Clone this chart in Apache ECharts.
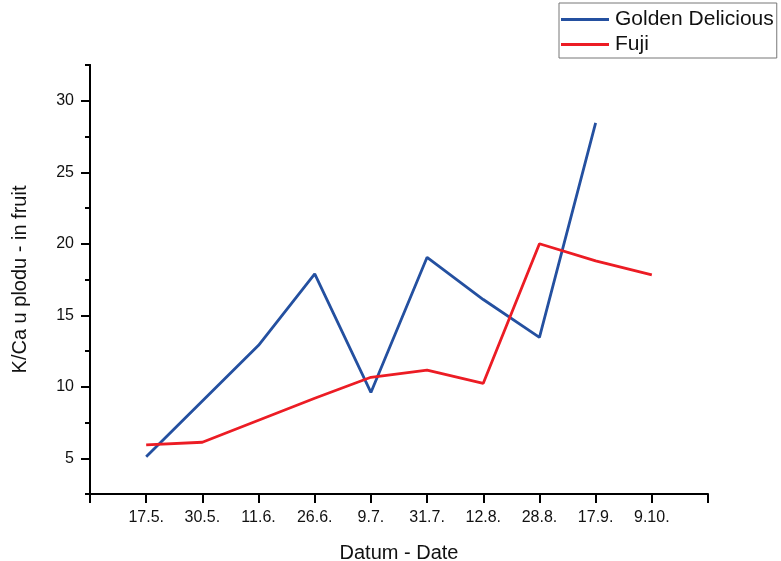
<!DOCTYPE html>
<html>
<head>
<meta charset="utf-8">
<script src="https://cdn.jsdelivr.net/npm/echarts@6/dist/echarts.min.js"></script>
<style>html,body{margin:0;padding:0;background:#fff;}#c{width:781px;height:561px;}</style>
</head>
<body>
<div id="c"></div>
<script>
const categories = ['17.5.', '30.5.', '11.6.', '26.6.', '9.7.', '31.7.', '12.8.', '28.8.', '17.9.', '9.10.'];
const goldenDelicious = [5.1, 9.0, 12.9, 17.9, 9.6, 19.05, 16.1, 13.45, 28.45];
const fuji = [5.93, 6.12, 7.66, 9.2, 10.66, 11.17, 10.24, 20.0, 18.8, 17.82];
const yMajorTicks = [5, 10, 15, 20, 25, 30];

const FONT = '"Liberation Sans", Arial, sans-serif';
const toPairs = arr => arr.map((v, i) => [i + 1, v]);

const chart = echarts.init(document.getElementById('c'), null, {renderer: 'canvas'});
chart.setOption({
  backgroundColor: '#fff',
  animation: false,
  grid: {left: 90, right: 73, top: 65, bottom: 67, outerBoundsMode: 'none', containLabel: false},
  legend: {
    orient: 'vertical',
    left: 559, top: 3,
    padding: [4, 3, 1, 2],
    itemGap: 0,
    icon: 'rect',
    itemWidth: 48, itemHeight: 3,
    borderColor: '#777', borderWidth: 1,
    textStyle: {fontFamily: FONT, fontSize: 21, color: '#111', lineHeight: 25, padding: [0, 0, 0, 1]},
    data: ['Golden Delicious', 'Fuji']
  },
  xAxis: {
    type: 'value', min: 0, max: 11, interval: 1,
    name: 'Datum - Date', nameLocation: 'middle', nameGap: 49,
    nameTextStyle: {fontFamily: FONT, fontSize: 20, color: '#111'},
    axisLine: {lineStyle: {color: '#000', width: 2}},
    axisTick: {show: true, length: 9, lineStyle: {color: '#000', width: 2}},
    axisLabel: {
      fontFamily: FONT, fontSize: 16, color: '#111', margin: 16,
      formatter: v => (v >= 1 && v <= categories.length) ? categories[v - 1] : ''
    },
    splitLine: {show: false}
  },
  yAxis: [{
    type: 'value', min: 2.5, max: 32.5, interval: 2.5, position: 'left',
    name: 'K/Ca u plodu - in fruit', nameLocation: 'middle', nameGap: 60, nameRotate: 90,
    nameTextStyle: {fontFamily: FONT, fontSize: 20, color: '#111'},
    axisLine: {show: true, lineStyle: {color: '#000', width: 2}},
    axisTick: {show: true, length: 5, lineStyle: {color: '#000', width: 2}},
    axisLabel: {
      fontFamily: FONT, fontSize: 16, color: '#111', margin: 16,
      formatter: v => (Math.abs(v % 5) < 1e-6 && v > 2.5) ? String(v) : ''
    },
    splitLine: {show: false}
  }, {
    type: 'value', min: 2.5, max: 32.5, interval: 2.5, position: 'left', offset: 0,
    axisLine: {show: true, lineStyle: {color: '#000', width: 2}},
    axisTick: {show: true, length: 9, customValues: yMajorTicks, lineStyle: {color: '#000', width: 2}},
    axisLabel: {show: false},
    splitLine: {show: false}
  }],
  series: [{
    name: 'Golden Delicious', type: 'line', symbol: 'none', yAxisIndex: 0,
    lineStyle: {color: '#2450a0', width: 2.8}, itemStyle: {color: '#2450a0'},
    data: toPairs(goldenDelicious)
  }, {
    name: 'Fuji', type: 'line', symbol: 'none', yAxisIndex: 0,
    lineStyle: {color: '#ec1c24', width: 2.8}, itemStyle: {color: '#ec1c24'},
    data: toPairs(fuji)
  }]
});
</script>
</body>
</html>
